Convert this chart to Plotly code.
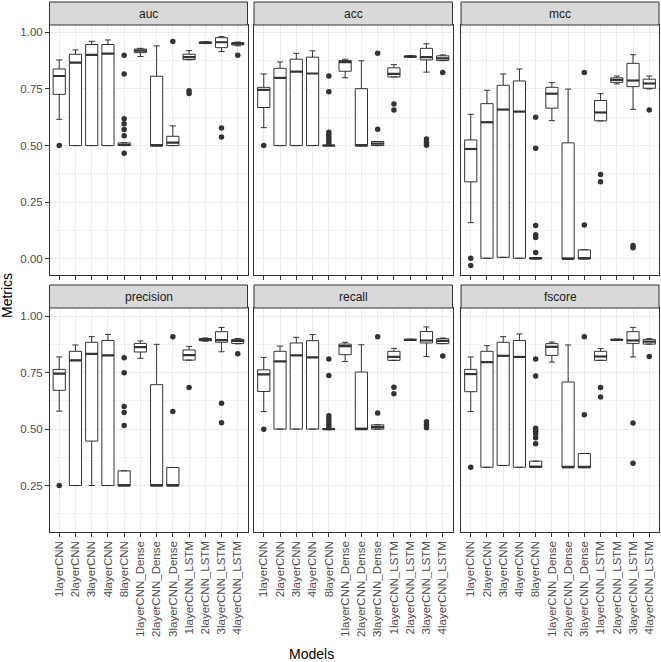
import plotly.graph_objects as go
from plotly.subplots import make_subplots

models = ['1layerCNN', '2layerCNN', '3layerCNN', '4layerCNN', '8layerCNN',
          '1layerCNN_Dense', '2layerCNN_Dense', '3layerCNN_Dense',
          '1layerCNN_LSTM', '2layerCNN_LSTM', '3layerCNN_LSTM', '4layerCNN_LSTM']
metrics = ['auc', 'acc', 'mcc', 'precision', 'recall', 'fscore']

# box stats (lower whisker, q1, median, q3, upper whisker) + outliers
auc_lo = [0.616, 0.5, 0.5, 0.5, 0.5, 0.893, 0.5, 0.5, 0.879, 0.950, 0.915, 0.940]
auc_q1 = [0.726, 0.5, 0.5, 0.5, 0.5, 0.910, 0.5, 0.5, 0.879, 0.951, 0.932, 0.944]
auc_med = [0.807, 0.866, 0.900, 0.906, 0.503, 0.919, 0.5, 0.513, 0.890, 0.954, 0.956, 0.950]
auc_q3 = [0.838, 0.903, 0.946, 0.946, 0.512, 0.926, 0.806, 0.541, 0.903, 0.957, 0.976, 0.954]
auc_hi = [0.878, 0.922, 0.960, 0.966, 0.512, 0.929, 0.940, 0.587, 0.919, 0.958, 0.981, 0.957]
auc_out = [[0.5], [], [], [], [0.899, 0.816, 0.618, 0.596, 0.571, 0.543, 0.466], [], [],
           [0.959], [0.742, 0.730], [], [0.578, 0.538], [0.899]]

acc_lo = [0.579, 0.5, 0.5, 0.5, 0.5, 0.799, 0.5, 0.5, 0.803, 0.889, 0.824, 0.875]
acc_q1 = [0.668, 0.5, 0.5, 0.5, 0.5, 0.828, 0.5, 0.5, 0.803, 0.890, 0.878, 0.875]
acc_med = [0.746, 0.799, 0.826, 0.818, 0.5, 0.868, 0.5, 0.509, 0.816, 0.893, 0.890, 0.885]
acc_q3 = [0.757, 0.841, 0.881, 0.890, 0.502, 0.875, 0.751, 0.518, 0.843, 0.895, 0.929, 0.896]
acc_hi = [0.816, 0.869, 0.907, 0.918, 0.502, 0.881, 0.874, 0.518, 0.857, 0.897, 0.949, 0.900]
acc_out = [[0.5], [], [], [], [0.807, 0.737, 0.559, 0.547, 0.535, 0.524, 0.512], [], [],
           [0.907, 0.572], [0.684, 0.657], [], [0.529, 0.515, 0.501], [0.822]]

mcc_lo = [0.160, 0.003, 0.007, 0.003, 0.0, 0.610, 0.0, 0.0, 0.609, 0.772, 0.660, 0.750]
mcc_q1 = [0.340, 0.003, 0.007, 0.003, 0.0, 0.665, 0.0, 0.0, 0.609, 0.779, 0.760, 0.753]
mcc_med = [0.485, 0.603, 0.659, 0.650, 0.003, 0.729, 0.0, 0.003, 0.646, 0.790, 0.787, 0.774]
mcc_q3 = [0.525, 0.685, 0.766, 0.785, 0.006, 0.757, 0.512, 0.040, 0.699, 0.799, 0.863, 0.793]
mcc_hi = [0.638, 0.744, 0.816, 0.838, 0.006, 0.778, 0.749, 0.040, 0.729, 0.807, 0.901, 0.807]
mcc_out = [[0.003, -0.029], [], [], [], [0.625, 0.488, 0.147, 0.107, 0.094, 0.028], [], [],
           [0.822, 0.150], [0.372, 0.340], [], [0.059, 0.049], [0.657]]

precision_lo = [0.580, 0.25, 0.25, 0.25, 0.25, 0.814, 0.25, 0.25, 0.806, 0.890, 0.843, 0.878]
precision_q1 = [0.672, 0.25, 0.447, 0.25, 0.25, 0.842, 0.25, 0.25, 0.806, 0.892, 0.885, 0.880]
precision_med = [0.746, 0.805, 0.834, 0.827, 0.25, 0.864, 0.25, 0.25, 0.828, 0.896, 0.895, 0.891]
precision_q3 = [0.765, 0.845, 0.885, 0.893, 0.315, 0.880, 0.697, 0.330, 0.851, 0.902, 0.932, 0.898]
precision_hi = [0.820, 0.873, 0.910, 0.920, 0.315, 0.891, 0.876, 0.330, 0.867, 0.904, 0.951, 0.902]
precision_out = [[0.25], [], [], [], [0.817, 0.75, 0.60, 0.574, 0.516], [], [],
                 [0.91, 0.578], [0.685], [], [0.615, 0.528], [0.834]]

recall_lo = [0.578, 0.5, 0.5, 0.5, 0.5, 0.800, 0.5, 0.5, 0.805, 0.893, 0.822, 0.879]
recall_q1 = [0.667, 0.5, 0.5, 0.5, 0.5, 0.830, 0.5, 0.5, 0.805, 0.894, 0.882, 0.879]
recall_med = [0.743, 0.800, 0.827, 0.818, 0.5, 0.868, 0.5, 0.509, 0.820, 0.896, 0.893, 0.891]
recall_q3 = [0.763, 0.845, 0.882, 0.892, 0.502, 0.877, 0.753, 0.519, 0.845, 0.898, 0.933, 0.901]
recall_hi = [0.818, 0.868, 0.907, 0.919, 0.502, 0.885, 0.874, 0.519, 0.858, 0.899, 0.953, 0.904]
recall_out = [[0.5], [], [], [], [0.811, 0.738, 0.559, 0.546, 0.533, 0.519, 0.506], [], [],
              [0.91, 0.571], [0.686, 0.657], [], [0.533, 0.519, 0.506], [0.824]]

fscore_lo = [0.578, 0.331, 0.339, 0.331, 0.331, 0.797, 0.331, 0.331, 0.805, 0.893, 0.820, 0.877]
fscore_q1 = [0.666, 0.331, 0.339, 0.331, 0.331, 0.827, 0.331, 0.331, 0.805, 0.894, 0.880, 0.877]
fscore_med = [0.744, 0.797, 0.825, 0.820, 0.333, 0.865, 0.331, 0.331, 0.822, 0.896, 0.893, 0.888]
fscore_q3 = [0.765, 0.845, 0.885, 0.893, 0.358, 0.879, 0.709, 0.392, 0.845, 0.898, 0.932, 0.898]
fscore_hi = [0.820, 0.870, 0.910, 0.922, 0.358, 0.886, 0.873, 0.392, 0.857, 0.899, 0.951, 0.901]
fscore_out = [[0.331], [], [], [], [0.811, 0.735, 0.504, 0.491, 0.478, 0.462, 0.435], [], [],
              [0.91, 0.564], [0.685, 0.642], [], [0.527, 0.349], [0.822]]

stats = {
    'auc': (auc_lo, auc_q1, auc_med, auc_q3, auc_hi, auc_out),
    'acc': (acc_lo, acc_q1, acc_med, acc_q3, acc_hi, acc_out),
    'mcc': (mcc_lo, mcc_q1, mcc_med, mcc_q3, mcc_hi, mcc_out),
    'precision': (precision_lo, precision_q1, precision_med, precision_q3, precision_hi, precision_out),
    'recall': (recall_lo, recall_q1, recall_med, recall_q3, recall_hi, recall_out),
    'fscore': (fscore_lo, fscore_q1, fscore_med, fscore_q3, fscore_hi, fscore_out),
}

W, H = 661, 662
FONT = 'Liberation Sans, Arial, sans-serif'
DARK = '#333333'
xpix = [(49.5, 247.5), (254, 452.5), (461, 659)]
ypix = [(25, 275), (308, 532)]  # panel top/bottom, px from top
strip_h = 23
bw = 0.75

fig = make_subplots(rows=2, cols=3)
pos = list(range(len(models)))

for k, m in enumerate(metrics):
    r, c = k // 3 + 1, k % 3 + 1
    lo, q1, med, q3, hi, out = stats[m]
    fig.add_trace(go.Box(x=pos, q1=q1, median=med, q3=q3, lowerfence=lo, upperfence=hi,
                         width=bw, fillcolor='white', line=dict(color=DARK, width=1),
                         boxpoints=False, showlegend=False), row=r, col=c)
    mx, my = [], []
    for i, v in enumerate(med):
        mx += [i - bw / 2, i + bw / 2, None]
        my += [v, v, None]
    fig.add_trace(go.Scatter(x=mx, y=my, mode='lines', line=dict(color=DARK, width=2.2),
                             showlegend=False, hoverinfo='skip'), row=r, col=c)
    ox, oy = [], []
    for i, vals in enumerate(out):
        for v in vals:
            ox.append(i)
            oy.append(v)
    fig.add_trace(go.Scatter(x=ox, y=oy, mode='markers', marker=dict(color=DARK, size=5.5),
                             showlegend=False), row=r, col=c)

    # strip on top of each panel
    x0, x1 = xpix[c - 1]
    top = ypix[r - 1][0]
    fig.add_shape(type='rect', xref='paper', yref='paper',
                  x0=x0 / W, x1=x1 / W, y0=1 - top / H, y1=1 - (top - strip_h) / H,
                  fillcolor='#d9d9d9', line=dict(color=DARK, width=1))
    fig.add_annotation(text=m, xref='paper', yref='paper', x=(x0 + x1) / 2 / W,
                       y=1 - (top - strip_h / 2) / H, xanchor='center', yanchor='middle',
                       showarrow=False, font=dict(family=FONT, size=12, color='#1a1a1a'))

tickfont = dict(family=FONT, size=11.5, color='#4d4d4d')
yranges = [[-0.071, 1.032], [0.044, 1.037]]
yticks = [[0, 0.25, 0.5, 0.75, 1.0], [0.25, 0.5, 0.75, 1.0]]
yminor = [[0.125, 0.375, 0.625, 0.875], [0.125, 0.375, 0.625, 0.875]]

for k in range(6):
    r, c = k // 3, k % 3
    x0, x1 = xpix[c]
    yt, yb = ypix[r]
    fig.update_xaxes(row=r + 1, col=c + 1, domain=[x0 / W, x1 / W], range=[-0.6, len(models) - 0.4],
                     tickvals=pos, ticktext=models, tickangle=-90, showticklabels=(r == 1),
                     ticks='outside', ticklen=3.5, tickcolor=DARK, tickwidth=1, tickfont=tickfont,
                     showgrid=True, gridcolor='#ebebeb', gridwidth=1, zeroline=False,
                     showline=True, mirror=True, linecolor=DARK, linewidth=1, automargin=False)
    fig.update_yaxes(row=r + 1, col=c + 1, domain=[1 - yb / H, 1 - yt / H], range=yranges[r],
                     tickvals=yticks[r], ticktext=['%.2f' % v for v in yticks[r]],
                     showticklabels=(c == 0), ticks='outside' if c == 0 else '', ticklen=3.5,
                     tickcolor=DARK, tickwidth=1, tickfont=tickfont,
                     showgrid=True, gridcolor='#ebebeb', gridwidth=1, zeroline=False,
                     minor=dict(showgrid=True, tickvals=yminor[r], gridcolor='#f4f4f4', gridwidth=0.6),
                     showline=True, mirror=True, linecolor=DARK, linewidth=1, automargin=False)

fig.add_annotation(text='Models', xref='paper', yref='paper', x=311 / W, y=1 - 654 / H,
                   xanchor='center', yanchor='middle', showarrow=False,
                   font=dict(family=FONT, size=14, color='black'))
fig.add_annotation(text='Metrics', xref='paper', yref='paper', x=7 / W, y=1 - 296 / H,
                   xanchor='center', yanchor='middle', showarrow=False, textangle=-90,
                   font=dict(family=FONT, size=14, color='black'))

fig.update_layout(width=W, height=H, autosize=False, margin=dict(l=0, r=0, t=0, b=0),
                  paper_bgcolor='white', plot_bgcolor='white', showlegend=False)
# the page body has a default 8px margin; drop it so the figure fills the window
fig.write_html("out.html", config={'displayModeBar': False},
               post_script="document.body.style.margin='0';document.body.style.overflow='hidden';")
